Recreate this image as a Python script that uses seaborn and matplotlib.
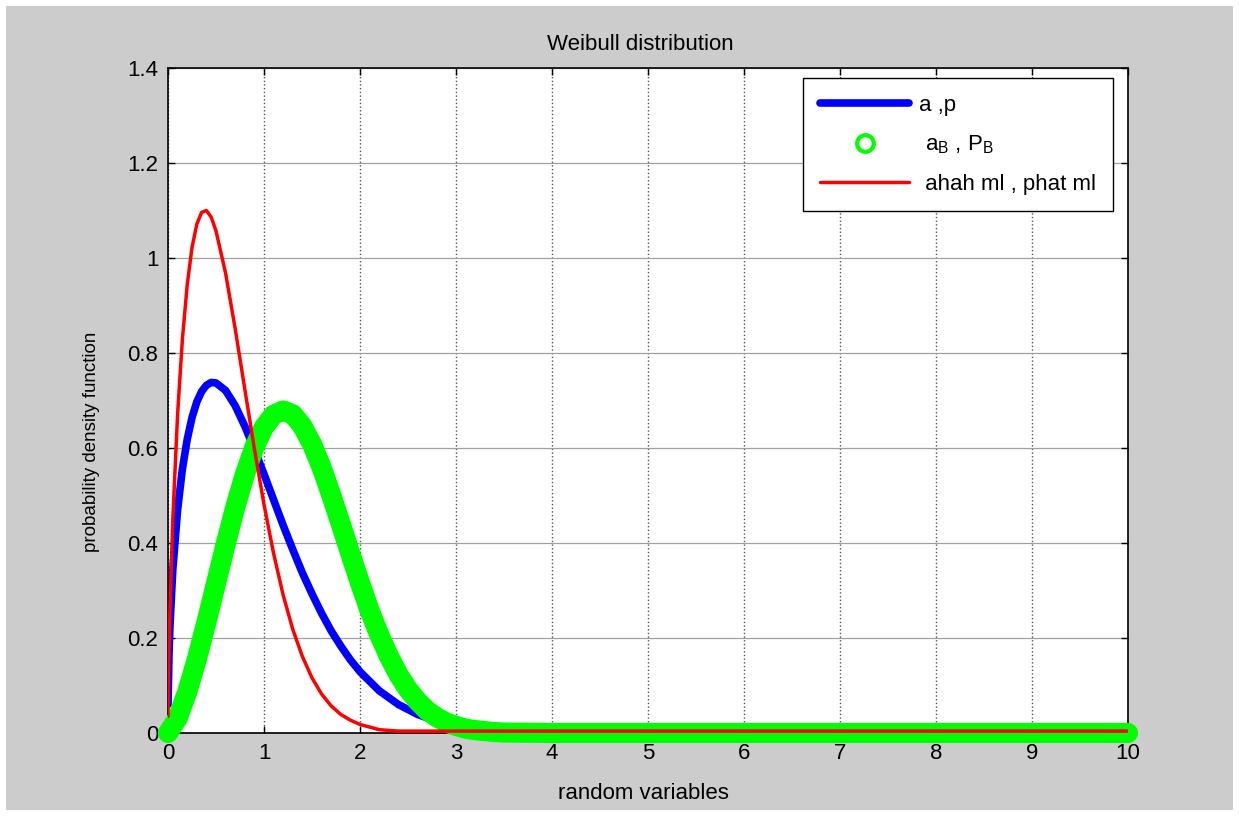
import numpy as np
import seaborn as sns
import matplotlib.pyplot as plt
from matplotlib.patches import Rectangle
from matplotlib.lines import Line2D
from matplotlib.ticker import FuncFormatter

# values
red_x = [0, 0.01, 0.02, 0.05, 0.1, 0.15, 0.2, 0.25, 0.3, 0.35, 0.4, 0.45, 0.5,
         0.6, 0.7, 0.8, 0.9, 1.0, 1.1, 1.2, 1.3, 1.4, 1.5, 1.6, 1.7, 1.8, 1.9,
         2.0, 2.2, 2.4, 2.6, 3.0, 4.0, 5.0, 6.0, 7.0, 8.0, 9.0, 10.0]
red_pdf = [0.035, 0.168, 0.258, 0.450, 0.671, 0.829, 0.943, 1.022, 1.071, 1.096,
           1.100, 1.086, 1.057, 0.968, 0.851, 0.724, 0.598, 0.481, 0.378, 0.290,
           0.218, 0.161, 0.116, 0.082, 0.057, 0.039, 0.027, 0.018, 0.007, 0.004,
           0.004, 0.004, 0.004, 0.004, 0.004, 0.004, 0.004, 0.004, 0.004]

blue_x = [0, 0.01, 0.02, 0.05, 0.1, 0.15, 0.2, 0.25, 0.3, 0.35, 0.4, 0.45, 0.5,
          0.6, 0.7, 0.8, 0.9, 1.0, 1.1, 1.2, 1.3, 1.4, 1.5, 1.6, 1.7, 1.8, 1.9,
          2.0, 2.2, 2.4, 2.6, 2.8, 3.0, 3.2, 3.5, 4.0, 10.0]
blue_pdf = [0.06, 0.161, 0.224, 0.344, 0.470, 0.556, 0.618, 0.664, 0.697, 0.719,
            0.732, 0.738, 0.737, 0.721, 0.689, 0.646, 0.597, 0.545, 0.491, 0.437,
            0.386, 0.337, 0.293, 0.252, 0.215, 0.183, 0.154, 0.129, 0.089, 0.060,
            0.039, 0.025, 0.016, 0.010, 0.005, 0.002, 0.0]

green_x = [0, 0.1, 0.2, 0.3, 0.4, 0.5, 0.6, 0.7, 0.8, 0.9, 1.0, 1.1, 1.2, 1.3,
           1.4, 1.5, 1.6, 1.7, 1.8, 1.9, 2.0, 2.1, 2.2, 2.3, 2.4, 2.5, 2.6, 2.7,
           2.8, 2.9, 3.0, 3.1, 3.2, 3.3, 3.4, 3.5, 4.0, 5.0, 6.0, 7.0, 8.0, 9.0, 10.0]
green_pdf = [0.0, 0.031, 0.086, 0.155, 0.233, 0.315, 0.397, 0.475, 0.544, 0.602,
             0.644, 0.670, 0.679, 0.671, 0.646, 0.608, 0.559, 0.501, 0.440, 0.377,
             0.316, 0.258, 0.207, 0.162, 0.123, 0.092, 0.067, 0.047, 0.033, 0.022,
             0.015, 0.009, 0.006, 0.004, 0.002, 0.001, 0.0, 0.0, 0.0, 0.0, 0.0,
             0.0, 0.0]

labels = ['a ,p', r' $\mathregular{a_B}$ , $\mathregular{P_B}$', ' ahah ml , phat ml']
fs = 16

sns.set_theme(style='white')
plt.rcParams['font.family'] = ['Liberation Sans', 'DejaVu Sans']
plt.rcParams['mathtext.fontset'] = 'custom'
plt.rcParams['mathtext.rm'] = 'Liberation Sans'
plt.rcParams['text.color'] = 'black'
plt.rcParams['axes.labelcolor'] = 'black'

fig = plt.figure(figsize=(12.39, 8.16), dpi=100, facecolor='white')
fig.patches.append(Rectangle((6 / 1239, 6 / 816), 1227 / 1239, 804 / 816,
                             transform=fig.transFigure, facecolor='#cccccc',
                             edgecolor='none', zorder=-10))
ax = fig.add_axes([168 / 1239, 83 / 816, 960 / 1239, 665 / 816])
ax.set_facecolor('white')

sns.lineplot(x=blue_x, y=blue_pdf, ax=ax, color='#0000ff', lw=5.5,
             sort=False, estimator=None, zorder=2)
# overlapping circle markers in the original form one solid band
sns.lineplot(x=green_x, y=green_pdf, ax=ax, color='#00ff00', lw=14.5,
             solid_capstyle='round', solid_joinstyle='round',
             sort=False, estimator=None, zorder=3, clip_on=False)
sns.lineplot(x=red_x, y=red_pdf, ax=ax, color='#ff0000', lw=2.5,
             sort=False, estimator=None, zorder=4)

ax.set_xlim(0, 10)
ax.set_ylim(0, 1.4)
ax.set_xticks(np.arange(0, 11, 1))
ax.set_yticks(np.arange(0, 1.41, 0.2))
ax.yaxis.set_major_formatter(FuncFormatter(lambda v, p: '%g' % round(v, 1)))

ax.grid(True, axis='x', color='#555555', linestyle=':', lw=1)
ax.grid(True, axis='y', color='#a0a0a0', linestyle='-', lw=0.9)
ax.tick_params(direction='in', length=5, width=1, colors='black',
               top=True, right=True, bottom=True, left=True,
               labelsize=fs, pad=7)
for s in ax.spines.values():
    s.set_color('black')
    s.set_linewidth(1.2)

ax.set_title('Weibull distribution', fontsize=fs, pad=13, x=0.4925)
ax.set_xlabel('random variables', fontsize=fs)
ax.xaxis.set_label_coords(0.495, -0.075)
ax.set_ylabel('probability density function', fontsize=13.5)
ax.yaxis.set_label_coords(-0.071, 0.4376)

handles = [
    Line2D([], [], color='#0000ff', lw=5.5),
    Line2D([], [], color='#00ff00', ls='none', marker='o', markersize=12,
           mfc='none', mec='#00ff00', mew=3),
    Line2D([], [], color='#ff0000', lw=2.5),
]
leg = ax.legend(handles, labels, loc='upper right', bbox_to_anchor=(0.984, 0.985),
                borderaxespad=0, fontsize=fs, frameon=True, fancybox=False,
                framealpha=1, edgecolor='black', handlelength=4.0,
                handletextpad=0.45, labelspacing=0.8, borderpad=0.75)
leg.get_frame().set_linewidth(1)

fig.savefig('out.png', dpi=100, facecolor=fig.get_facecolor())
